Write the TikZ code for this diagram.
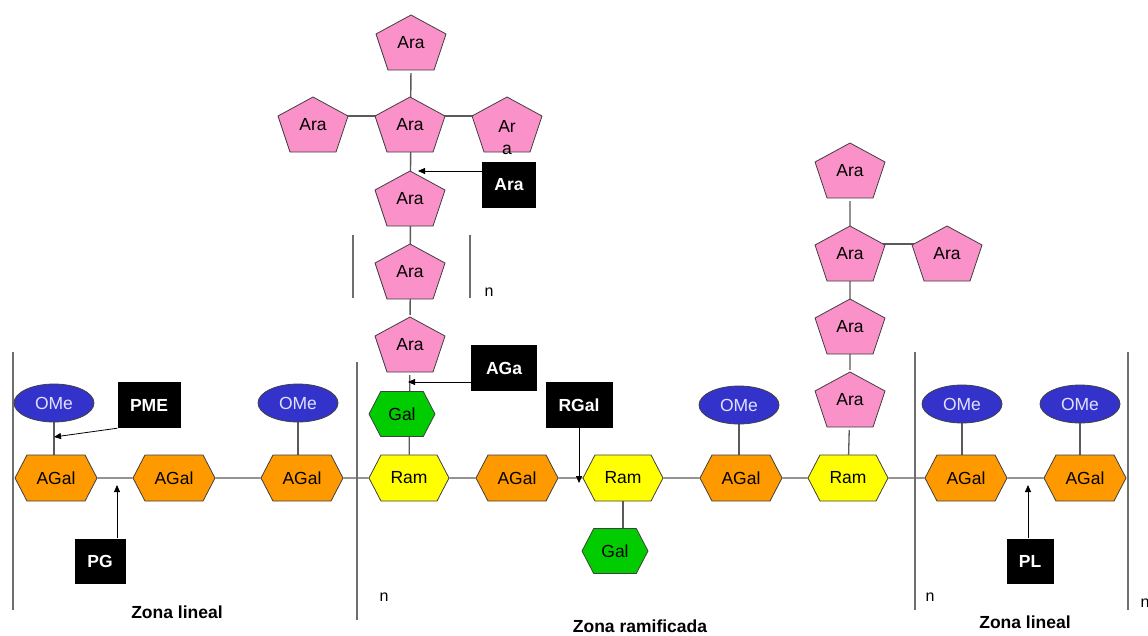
\documentclass[tikz,border=0pt]{standalone}
\usepackage{fontspec}
\setmainfont{Liberation Sans}
\usetikzlibrary{shapes.symbols,shapes.geometric,arrows.meta,backgrounds,calc}
\definecolor{agalc}{RGB}{255,153,0}
\definecolor{ramc}{RGB}{255,255,0}
\definecolor{galc}{RGB}{0,204,0}
\definecolor{arac}{RGB}{250,145,200}
\definecolor{omec}{RGB}{51,51,204}
\definecolor{ometc}{RGB}{225,225,255}
\definecolor{linc}{RGB}{90,90,90}
\definecolor{barc}{RGB}{110,110,110}
\begin{document}
\begin{tikzpicture}[x=1pt,y=-1pt,
 lbl/.style={font=\fontsize{17.5}{20}\selectfont},
 hexa/.style={signal, signal to=east and west, signal pointer angle=125, draw=black!75, line width=0.8pt, minimum width=82pt, minimum height=46pt, inner sep=0pt, lbl},
 agal/.style={hexa, fill=agalc},
 ram/.style={hexa, fill=ramc, minimum width=80pt},
 galh/.style={hexa, fill=galc, minimum width=66pt, minimum height=45pt},
 pent/.style={minimum width=74pt, minimum height=60pt, inner sep=0pt, lbl,
   path picture={\draw[fill=arac, draw=black!75, line width=0.8pt]
     ([shift={(0pt,28pt)}]path picture bounding box.center)
     -- ([shift={(35pt,9pt)}]path picture bounding box.center)
     -- ([shift={(23pt,-27pt)}]path picture bounding box.center)
     -- ([shift={(-23pt,-27pt)}]path picture bounding box.center)
     -- ([shift={(-35pt,9pt)}]path picture bounding box.center) -- cycle;}},
 ome/.style={ellipse, fill=omec, draw=black!75, line width=0.8pt, minimum width=80pt, minimum height=38pt, inner sep=0pt, text=ometc, lbl},
 enz/.style={fill=black, text=white, font=\bfseries\fontsize{17.5}{20}\selectfont, inner sep=0pt},
 link/.style={draw=linc, line width=1.3pt},
 arr/.style={-{Triangle[length=7pt,width=6pt]}, black, line width=0.8pt},
 bar/.style={draw=barc, line width=1.5pt},
 zona/.style={font=\bfseries\fontsize{17.5}{20}\selectfont},
 nlbl/.style={font=\fontsize{16}{18}\selectfont},
]
\useasboundingbox (0,0) rectangle (1148,635);

% vertical bars
\draw[bar] (13,352) -- (13,610);
\draw[bar] (357,362) -- (357,620);
\draw[bar] (915,352) -- (915,610);
\draw[bar] (1128,352) -- (1128,610);
\draw[bar] (353,235) -- (353,298);
\draw[bar] (470,235) -- (470,298);

% main chain
\node[agal] (a1) at (56,478) {AGal};
\node[agal] (a2) at (174,478) {AGal};
\node[agal] (a3) at (302,478) {AGal};
\node[ram]  (r1) at (409,478) {Ram};
\node[agal] (a4) at (517,478) {AGal};
\node[ram]  (r2) at (623,478) {Ram};
\node[agal] (a5) at (741,478) {AGal};
\node[ram]  (r3) at (848,478) {Ram};
\node[agal] (a6) at (966,478) {AGal};
\node[agal] (a7) at (1085,478) {AGal};

% methyl groups
\node[ome] (o1) at (54,403) {OMe};
\node[ome] (o2) at (298,403) {OMe};
\node[ome] (o3) at (739,405) {OMe};
\node[ome] (o4) at (962,404) {OMe};
\node[ome] (o5) at (1080,404) {OMe};

% galactose
\node[galh] (g1) at (402,414) {Gal};
\node[galh] (g2) at (615,551) {Gal};

% left arabinan tree
\node[pent] (p1) at (411,43) {Ara};
\node[pent] (p2) at (410,125) {Ara};
\node[pent] (pl) at (313,125) {Ara};
\node[pent] (pr) at (507,125) {\raisebox{0pt}[\height][0pt]{\begin{tabular}[t]{@{}c@{}}Ar\\[2pt]a\end{tabular}}};
\node[pent] (p3) at (410,199) {Ara};
\node[pent] (p4) at (410,272) {Ara};
\node[pent] (p5) at (410,345) {Ara};

% right arabinan tree
\node[pent] (q1) at (850,171) {Ara};
\node[pent] (q2) at (850,254) {Ara};
\node[pent] (qr) at (947,254) {Ara};
\node[pent] (q3) at (850,327) {Ara};
\node[pent] (q4) at (850,400) {Ara};

% enzymes
\node[enz, minimum width=54pt, minimum height=46pt] (araB) at (509,185) {Ara};
\node[enz, minimum width=66pt, minimum height=46pt] (agaB) at (504,368) {AGa};
\node[enz, minimum width=67pt, minimum height=46pt] (rgalB) at (579,405) {RGal};
\node[enz, minimum width=63pt, minimum height=46pt] (pmeB) at (149,405) {PME};
\node[enz, minimum width=51pt, minimum height=45pt] (pgB) at (100,561) {PG};
\node[enz, minimum width=47pt, minimum height=45pt] (plB) at (1030,561) {PL};

\coordinate (araT) at (418,171);
\coordinate (agaT) at (408,382);
\coordinate (rgalT) at (579,483);
\coordinate (pmeT) at (54,437);
\coordinate (pgT) at (117,485);
\coordinate (plT) at (1028,485);

\draw[arr] ([yshift=14pt]araB.west) -- (araT);
\draw[arr] ([yshift=-14pt]agaB.west) -- (agaT);
\draw[arr] (rgalB.south) -- (rgalT);
\draw[arr] (pmeB.south west) -- (pmeT);
\draw[arr] (pgB.north -| pgT) -- (pgT);
\draw[arr] (plB.north -| plT) -- (plT);

% labels
\node[nlbl] (n1) at (489,292) {n};
\node[nlbl] (n2) at (384,597) {n};
\node[nlbl] (n3) at (930,597) {n};
\node[nlbl] (n4) at (1145,603) {n};
\node[zona] (z1) at (177,612) {Zona lineal};
\node[zona] (z2) at (640,626) {Zona ramificada};
\node[zona] (z3) at (1025,622) {Zona lineal};

\begin{pgfonlayer}{background}
\fill[white] (0,0) rectangle (1148,635);
\draw[link] (a1) -- (a2) -- (a3) -- (r1) -- (a4) -- (r2) -- (a5) -- (r3) -- (a6) -- (a7);
\draw[link] (o1) -- (o1 |- a1);
\draw[link] (o2) -- (o2 |- a3);
\draw[link] (o3) -- (o3 |- a5);
\draw[link] (o4) -- (o4 |- a6);
\draw[link] (o5) -- (o5 |- a7);
\draw[link] (p1) -- (p5) -- (r1);
\draw[link] ([yshift=9pt]pl.center) -- ([yshift=9pt]pr.center);
\draw[link] (r2) -- (r2 |- g2);
\draw[link] (q1) -- (q4) -- (r3);
\draw[link] ([yshift=10pt]q2.center) -- ([yshift=10pt]qr.center);
\end{pgfonlayer}
\end{tikzpicture}
\end{document}
